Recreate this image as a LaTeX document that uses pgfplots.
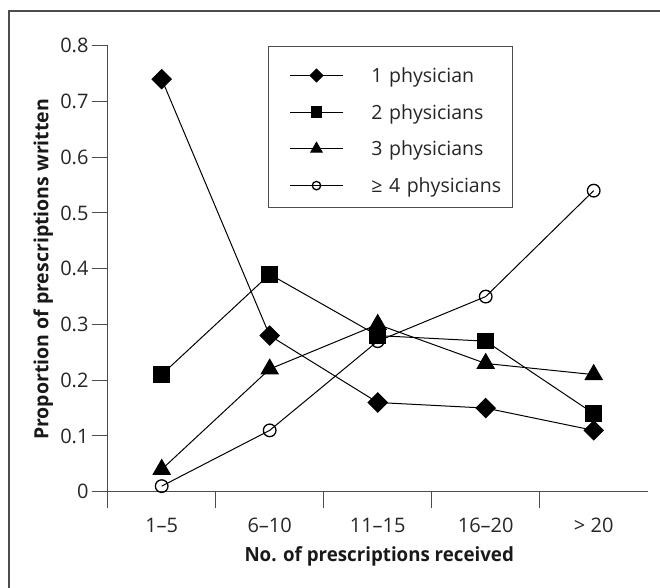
\documentclass[border=0pt]{standalone}
\usepackage{pgfplots}
\pgfplotsset{compat=1.18}
\usepackage{fontspec}
\setmainfont{Open Sans}
\begin{document}
\fontsize{19.5bp}{23bp}\selectfont
\begin{tikzpicture}
\useasboundingbox (-107.7bp,-96.3bp) rectangle (552.3bp,491.7bp);
\draw[line width=2bp, black!70] (-98.4bp,-120bp) -- (-98.4bp,480.7bp) -- (580bp,480.7bp);
\begin{axis}[
  at={(0,0)}, anchor=south west,
  scale only axis, width=540bp, height=446bp,
  xmin=0.5, xmax=5.5, ymin=0, ymax=0.8,
  axis x line=bottom, axis y line=left,
  axis line style={-, draw=black!70, line width=1bp},
  tick align=outside, major tick length=16bp,
  tick style={draw=black!70, line width=1bp},
  xtick={0.5,1.5,2.5,3.5,4.5}, xticklabels={},
  extra x ticks={1,2,3,4,5},
  extra x tick labels={1--5,6--10,11--15,16--20,> 20},
  extra x tick style={major tick length=0pt, tick style={draw=none}},
  tick label style={font=\fontsize{20bp}{24bp}\selectfont},
  xticklabel style={anchor=base, inner sep=0pt, yshift=-41bp, text=black!85},
  ytick={0,0.1,0.2,0.3,0.4,0.5,0.6,0.7,0.8},
  yticklabels={0,0.1,0.2,0.3,0.4,0.5,0.6,0.7,0.8},
  yticklabel style={anchor=east, inner sep=0pt, xshift=-3bp, text=black!85},
  xlabel={\bfseries No. of prescriptions received},
  xlabel style={at={(axis description cs:0.5028,0)}, anchor=base, yshift=-69.3bp, inner sep=0pt, text=black!90, xscale=0.96},
  ylabel={\bfseries Proportion of prescriptions written},
  ylabel style={at={(axis description cs:-0.11,0.4985)}, anchor=base, inner sep=0pt, text=black!90},
  legend image code/.code={
    \draw[mark repeat=2, mark phase=2, #1, every mark/.append style={scale=0.67}]
      plot coordinates {(0bp,7bp) (26.2bp,7bp) (52.4bp,7bp)};
  },
  legend style={at={(0.2974,1)}, anchor=north west, draw=black!70, line width=1bp,
    inner xsep=21bp, inner ysep=14.7bp, row sep=15.1bp,
    cells={anchor=base},
    nodes={inner sep=0pt, text height=21.6bp, text depth=0pt, text width=119.7bp, align=left, text=black!85},
    /tikz/every odd column/.append style={column sep=28.3bp}},
]
\addplot[black, line width=1bp, mark=square*, mark size=6.8bp, mark options={rotate=45, solid, fill=black}]
  coordinates {(1,0.74) (2,0.28) (3,0.16) (4,0.15) (5,0.11)};
\addplot[black, line width=1bp, mark=square*, mark size=7.8bp, mark options={solid, fill=black}]
  coordinates {(1,0.21) (2,0.39) (3,0.28) (4,0.27) (5,0.14)};
\addplot[black, line width=1bp, mark=triangle*, mark size=9.8bp, mark options={solid, fill=black}]
  coordinates {(1,0.04) (2,0.22) (3,0.30) (4,0.23) (5,0.21)};
\addplot[black, line width=1bp, mark=o, mark size=6.3bp, mark options={solid, line width=1.3bp}]
  coordinates {(1,0.01) (2,0.11) (3,0.27) (4,0.35) (5,0.54)};
\legend{\mbox{1 physician}, \mbox{2 physicians}, \mbox{3 physicians}, \mbox{≥ 4 physicians}}
\end{axis}
\end{tikzpicture}
\end{document}
